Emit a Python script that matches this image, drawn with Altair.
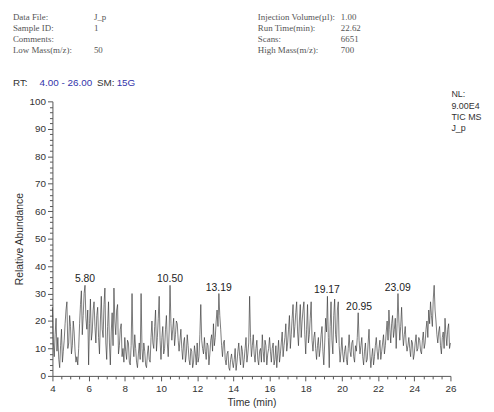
import altair as alt
import pandas as pd

# ---------------- data ----------------
T_START = 4.0
T_STEP = 0.05
abundance = [
    25, 12, 7, 15, 21, 9, 14, 6, 3, 11, 17, 5, 9, 13, 19, 24, 27, 10, 12, 22,      # 4
    18, 8, 11, 20, 16, 9, 5, 7, 4, 10, 19, 26, 31, 15, 22, 30, 33, 21, 17, 24,     # 5
    4, 19, 28, 13, 16, 24, 27, 18, 12, 22, 25, 14, 8, 20, 29, 17, 14, 26, 32, 12,  # 6
    6, 18, 27, 12, 4, 16, 23, 11, 32, 20, 15, 24, 26, 8, 11, 17, 19, 7, 10, 5,     # 7
    14, 9, 6, 13, 12, 5, 4, 11, 30, 12, 7, 15, 10, 5, 3, 8, 12, 6, 30, 10,         # 8
    5, 12, 9, 4, 3, 8, 11, 6, 5, 14, 20, 12, 10, 18, 24, 9, 14, 21, 29, 13,        # 9
    6, 14, 18, 8, 10, 17, 22, 12, 7, 16, 33, 19, 13, 17, 21, 11, 15, 20, 19, 13,   # 10
    9, 13, 17, 10, 6, 12, 14, 5, 8, 15, 11, 6, 4, 10, 9, 3, 5, 11, 8, 4,           # 11
    12, 5, 7, 15, 26, 13, 10, 8, 14, 9, 6, 12, 11, 4, 8, 13, 15, 9, 19, 11,        # 12
    14, 20, 24, 18, 30, 22, 17, 11, 7, 12, 13, 6, 4, 8, 9, 3, 2, 6, 8, 5,          # 13
    3, 6, 10, 2, 5, 9, 12, 7, 4, 11, 9, 3, 6, 10, 14, 5, 8, 12, 29, 14,            # 14
    7, 11, 15, 8, 5, 10, 13, 6, 4, 9, 10, 5, 15, 9, 5, 13, 11, 4, 8, 10,           # 15
    14, 9, 5, 10, 12, 4, 6, 11, 3, 8, 13, 5, 8, 12, 16, 7, 11, 14, 19, 9,          # 16
    12, 17, 22, 10, 15, 21, 26, 14, 18, 23, 27, 16, 11, 20, 26, 14, 20, 24, 27, 15,# 17
    8, 17, 26, 12, 15, 21, 27, 13, 9, 14, 16, 10, 6, 11, 14, 7, 10, 15, 18, 9,     # 18
    4, 12, 21, 16, 29, 14, 3, 18, 27, 13, 8, 22, 28, 15, 12, 24, 27, 11, 5, 9,     # 19
    14, 8, 5, 9, 11, 6, 4, 10, 15, 9, 7, 12, 13, 7, 5, 11, 9, 14, 23, 13,          # 20
    8, 11, 14, 7, 4, 9, 12, 5, 6, 12, 17, 8, 3, 7, 10, 4, 7, 11, 14, 9,            # 21
    6, 10, 13, 6, 9, 12, 15, 8, 11, 16, 20, 13, 24, 17, 12, 19, 22, 14, 17, 21,    # 22
    10, 19, 30, 20, 13, 18, 25, 16, 11, 15, 18, 12, 9, 11, 14, 10, 7, 13, 12, 6,   # 23
    8, 12, 15, 9, 10, 14, 13, 9, 8, 13, 16, 10, 12, 17, 20, 14, 24, 19, 27, 22,    # 24
    18, 28, 33, 24, 20, 15, 12, 16, 18, 11, 8, 14, 16, 10, 21, 15, 11, 17, 19, 10, # 25
    12,                                                                            # 26
]
times = [round(T_START + i * T_STEP, 2) for i in range(len(abundance))]

peak_times = [5.80, 10.50, 13.19, 19.17, 20.95, 23.09]
peak_heights = [33, 33, 30, 29, 23, 30]
peak_labels = ["5.80", "10.50", "13.19", "19.17", "20.95", "23.09"]

header_left_labels = ["Data File:", "Sample ID:", "Comments:", "Low Mass(m/z):"]
header_left_values = ["J_p", "1", "", "50"]
header_right_labels = ["Injection Volume(µl):", "Run Time(min):", "Scans:", "High Mass(m/z):"]
header_right_values = ["1.00", "22.62", "6651", "700"]

rt_parts = ["RT:", "4.00 - 26.00", "SM:", "15G"]
nl_lines = ["NL:", "9.00E4", "TIC  MS", "J_p"]

x_ticks = [4 + 0.5 * i for i in range(45)]
y_ticks = list(range(0, 101, 2))

# ---------------- chart ----------------
series = pd.DataFrame({"t": times, "a": abundance})
peaks = pd.DataFrame({"t": peak_times, "a": peak_heights, "label": peak_labels})
one = pd.DataFrame({"k": [0]})

SANS = "Liberation Sans"
SERIF = "Liberation Serif"

x_scale = alt.Scale(domain=[4, 26], nice=False, zero=False)
y_scale = alt.Scale(domain=[0, 100], nice=False)

x_axis = alt.Axis(
    values=x_ticks,
    tickCount=200,
    labelExpr="datum.value % 2 === 0 ? format(datum.value, 'd') : ''",
    tickSize={"condition": {"test": "datum.value % 2 === 0", "value": 5}, "value": 3},
    title="Time (min)",
    titlePadding=4,
    labelPadding=3,
    labelFlush=False,
    labelOverlap=False,
)
y_axis = alt.Axis(
    values=y_ticks,
    tickCount=200,
    labelExpr="datum.value % 10 === 0 ? format(datum.value, 'd') : ''",
    tickSize={"condition": {"test": "datum.value % 10 === 0", "value": 5}, "value": 3},
    title="Relative Abundance",
    titlePadding=5,
    labelPadding=2,
    labelFlush=False,
    labelOverlap=False,
)

line = alt.Chart(series).mark_line(color="#333333", strokeWidth=0.65).encode(
    x=alt.X("t:Q", scale=x_scale, axis=x_axis),
    y=alt.Y("a:Q", scale=y_scale, axis=y_axis),
)

labels = alt.Chart(peaks).mark_text(
    font=SANS, fontSize=10.5, color="#222222", baseline="bottom", dy=-1
).encode(
    x=alt.X("t:Q", scale=x_scale),
    y=alt.Y("a:Q", scale=y_scale),
    text="label:N",
)


def cell(s, x, y, font, size, color):
    return alt.Chart(one).mark_text(
        text=s, align="left", baseline="middle", font=font, fontSize=size, color=color,
    ).encode(x=alt.value(x), y=alt.value(y))


HDR_TOP = -85
HDR_STEP = 11
headers = []
for col_texts, cx in [
    (header_left_labels, -40),
    (header_left_values, 42),
    (header_right_labels, 208),
    (header_right_values, 292),
]:
    for i, s in enumerate(col_texts):
        if s:
            headers.append(cell(s, cx, HDR_TOP + HDR_STEP * i, SERIF, 9, "#555555"))

rt_colors = ["#333333", "#3333aa", "#333333", "#3333aa"]
rt_x = [-40, -13, 45, 65]
rt_layers = [cell(s, x, -19, SANS, 10, c) for s, c, x in zip(rt_parts, rt_colors, rt_x)]

nl_layers = [cell(s, 404, -7 + 11.3 * i, SANS, 9, "#333333") for i, s in enumerate(nl_lines)]

chart = alt.layer(line, labels, *headers, *rt_layers, *nl_layers).properties(
    width=403,
    height=278,
    padding={"left": 45, "top": 92, "right": 36, "bottom": 33},
    autosize=alt.AutoSizeParams(type="none"),
).configure_view(stroke=None).configure_axis(
    grid=False,
    domainColor="#555555",
    tickColor="#555555",
    labelFont=SANS,
    labelFontSize=10,
    labelColor="#333333",
    titleFont=SANS,
    titleFontSize=10.5,
    titleFontWeight="normal",
    titleColor="#333333",
)

chart.save("out.html", embed_options={"renderer": "svg", "actions": False})
